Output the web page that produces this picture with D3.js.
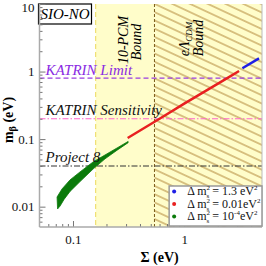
<!DOCTYPE html>
<html>
<head>
<meta charset="utf-8">
<script src="https://cdn.jsdelivr.net/npm/d3@7"></script>
<style>
  body { margin: 0; background: #fff; }
  text { font-family: "Liberation Serif", "DejaVu Serif", serif; }
</style>
</head>
<body>
<div id="chart"></div>
<script>
// data
var greenUpper = [[0.0719, 0.0139], [0.0797, 0.0183], [0.094, 0.0249], [0.1157, 0.0327], [0.1515, 0.0459], [0.194, 0.0582], [0.249, 0.074], [0.313, 0.0923]];
var greenLower = [[0.0727, 0.00925], [0.0765, 0.0102], [0.0831, 0.0128], [0.094, 0.0168], [0.1157, 0.0235], [0.1515, 0.036], [0.194, 0.051], [0.249, 0.0685], [0.313, 0.0885]];
var redLine = [[0.31, 0.104], [0.6, 0.2], [1.0, 0.335], [2.5, 0.82], [3.11, 1.02]];
var blueLine = [[3.33, 1.12], [4.7, 1.57]];

var bounds = {pcm: 0.16, lcdm: 0.54};
var refLines = [
  {name: "KATRIN Limit", value: 0.8},
  {name: "KATRIN Sensitivity", value: 0.2},
  {name: "Project 8", value: 0.04}
];
var xTicks = [0.1, 1];
var yTicks = [0.01, 0.1, 1, 10];
var yTickLabels = ["0.01", "0.1", "1", "10"];
var legendValues = ["1.3 eV", "0.01eV", "10"];
var legendColors = ["#1f1fe6", "#e82020", "#0a7a0a"];

var width = 266, height = 266,
    margin = {top: 4, right: 4, bottom: 39, left: 39.5};
var iw = width - margin.left - margin.right,
    ih = height - margin.top - margin.bottom;

var svg = d3.select("#chart").append("svg")
  .attr("width", width)
  .attr("height", height);

var defs = svg.append("defs");
defs.append("clipPath").attr("id", "clip")
  .append("rect").attr("width", iw).attr("height", ih);
var pat = defs.append("pattern")
  .attr("id", "hatch")
  .attr("patternUnits", "userSpaceOnUse")
  .attr("width", 10).attr("height", 7.5)
  .attr("patternTransform", "rotate(25)");
pat.append("rect").attr("width", 10).attr("height", 7.5).attr("fill", "#fffdca");
pat.append("line").attr("x1", 0).attr("x2", 10).attr("y1", 3.75).attr("y2", 3.75)
  .attr("stroke", "#b48a3c").attr("stroke-width", 1);

var g = svg.append("g").attr("transform", `translate(${margin.left},${margin.top})`);

var x = d3.scaleLog().domain([0.05, 5]).range([0, iw]);
var y = d3.scaleLog().domain([0.005, 10]).range([ih, 0]);

var plot = g.append("g").attr("clip-path", "url(#clip)");

// bound regions
plot.append("rect")
  .attr("x", x(bounds.pcm)).attr("y", 0)
  .attr("width", x(bounds.lcdm) - x(bounds.pcm)).attr("height", ih)
  .attr("fill", "#fffdca");
plot.append("rect")
  .attr("x", x(bounds.lcdm)).attr("y", 0)
  .attr("width", iw - x(bounds.lcdm)).attr("height", ih)
  .attr("fill", "url(#hatch)");
plot.append("line")
  .attr("x1", x(bounds.pcm)).attr("x2", x(bounds.pcm)).attr("y1", 0).attr("y2", ih)
  .attr("stroke", "#ecd95a").attr("stroke-width", 1).attr("stroke-dasharray", "5,3");
plot.append("line")
  .attr("x1", x(bounds.lcdm)).attr("x2", x(bounds.lcdm)).attr("y1", 0).attr("y2", ih)
  .attr("stroke", "#7a5a18").attr("stroke-width", 1).attr("stroke-dasharray", "3,2");

// reference lines
var refStyle = [
  {color: "#9a3ce0", dash: "5,3"},
  {color: "#ff66cc", dash: "6,2,1.5,2"},
  {color: "#333", dash: "6,2,1.5,2"}
];
refLines.forEach(function(r, i) {
  plot.append("line")
    .attr("x1", 0).attr("x2", iw).attr("y1", y(r.value)).attr("y2", y(r.value))
    .attr("stroke", refStyle[i].color).attr("stroke-width", 1.1)
    .attr("stroke-dasharray", refStyle[i].dash);
});

// green band
var band = greenUpper.concat(greenLower.slice().reverse());
plot.append("path")
  .attr("d", d3.line().x(d => x(d[0])).y(d => y(d[1])).curve(d3.curveLinearClosed)(band))
  .attr("fill", legendColors[2]).attr("stroke", legendColors[2]).attr("stroke-width", 0.8);

var line = d3.line().x(d => x(d[0])).y(d => y(d[1]));
plot.append("path").attr("d", line(redLine))
  .attr("fill", "none").attr("stroke", legendColors[1]).attr("stroke-width", 2.5);
plot.append("path").attr("d", line(blueLine))
  .attr("fill", "none").attr("stroke", legendColors[0]).attr("stroke-width", 2.5);

// labels in the plot
var labelY = [-3, -4, -4];
refLines.forEach(function(r, i) {
  g.append("text")
    .attr("x", 6).attr("y", y(r.value) + labelY[i])
    .attr("font-size", 15).attr("font-style", "italic")
    .attr("fill", i == 0 ? "#8a2be2" : "#111")
    .text(r.name);
});

g.append("text")
  .attr("transform", `translate(${x(bounds.pcm) + 32},36) rotate(-90)`)
  .attr("text-anchor", "middle").attr("font-size", 14).attr("font-style", "italic")
  .text("10-PCM");
g.append("text")
  .attr("transform", `translate(${x(bounds.pcm) + 45},38) rotate(-90)`)
  .attr("text-anchor", "middle").attr("font-size", 14).attr("font-style", "italic")
  .text("Bound");

var lt = g.append("text")
  .attr("transform", `translate(${x(bounds.lcdm) + 35},35) rotate(-90)`)
  .attr("text-anchor", "middle").attr("font-size", 14).attr("font-style", "italic");
lt.append("tspan").text("eΛ");
lt.append("tspan").attr("font-size", 9).attr("dy", 3).text("CDM");
g.append("text")
  .attr("transform", `translate(${x(bounds.lcdm) + 49},34) rotate(-90)`)
  .attr("text-anchor", "middle").attr("font-size", 14).attr("font-style", "italic")
  .text("Bound");

// SIO-NO box
g.append("rect").attr("x", -1).attr("y", 0).attr("width", 53).attr("height", 20)
  .attr("fill", "#fff").attr("stroke", "#000").attr("stroke-width", 1.2);
g.append("text").attr("x", 25.5).attr("y", 15).attr("text-anchor", "middle")
  .attr("font-size", 15).attr("font-style", "italic").text("SIO-NO");

// axes
function minors(lo, hi) {
  var out = [];
  for (var e = -3; e <= 1; e++) {
    for (var k = 2; k <= 9; k++) {
      var v = k * Math.pow(10, e);
      if (v > lo && v < hi) out.push(v);
    }
  }
  return out;
}

var xMinor = g.append("g").attr("transform", `translate(0,${ih})`)
  .call(d3.axisBottom(x).tickValues(minors(0.05, 5)).tickSize(-3).tickFormat(""));
var xMajor = g.append("g").attr("transform", `translate(0,${ih})`)
  .call(d3.axisBottom(x).tickValues(xTicks).tickSize(-6).tickPadding(8).tickFormat(d3.format("")));
var yMinor = g.append("g")
  .call(d3.axisLeft(y).tickValues(minors(0.005, 10)).tickSize(-3).tickFormat(""));
var yMajor = g.append("g")
  .call(d3.axisLeft(y).tickValues(yTicks).tickSize(-6).tickPadding(5).tickFormat((d, i) => yTickLabels[i]));

[xMinor, xMajor, yMinor, yMajor].forEach(function(a) {
  a.select(".domain").remove();
  a.selectAll(".tick line").attr("stroke", "#777");
  a.selectAll("text").attr("font-size", 13).attr("fill", "#111")
    .attr("font-family", "Liberation Serif");
});
// keep the top label inside the picture
yMajor.selectAll(".tick text").filter(d => d == 10).attr("dy", "0.55em");

g.append("line").attr("x1", 0).attr("x2", 0).attr("y1", 0).attr("y2", ih)
  .attr("stroke", "#aaa").attr("stroke-width", 1.5);
g.append("line").attr("x1", 0).attr("x2", iw).attr("y1", ih).attr("y2", ih)
  .attr("stroke", "#aaa").attr("stroke-width", 1.5);
g.append("line").attr("x1", iw).attr("x2", iw).attr("y1", 0).attr("y2", ih)
  .attr("stroke", "#bbb").attr("stroke-width", 1);

// legend
var leg = g.append("g").attr("transform", `translate(${x(0.9) - 10},${ih - 41})`);
leg.append("rect").attr("width", iw - x(0.9) + 10).attr("height", 40)
  .attr("fill", "#fff").attr("stroke", "#999").attr("stroke-width", 1.5);
legendValues.forEach(function(v, i) {
  var ry = 9 + i * 12.5;
  leg.append("circle").attr("cx", 5).attr("cy", ry - 3.5).attr("r", 2).attr("fill", legendColors[i]);
  var t = leg.append("text").attr("x", 18).attr("y", ry).attr("font-size", 12).attr("fill", "#111");
  t.append("tspan").text("Δ m");
  t.append("tspan").attr("font-size", 7).attr("dy", -5).text("2");
  t.append("tspan").attr("font-size", 7).attr("dx", -3.5).attr("dy", 8).text("s");
  t.append("tspan").attr("dy", -3).text(" = " + v);
  if (i == 2) {
    t.append("tspan").attr("font-size", 7).attr("dy", -5).text("-4");
    t.append("tspan").attr("dy", 5).text("eV");
  }
  t.append("tspan").attr("font-size", 7).attr("dy", -5).text("2");
});

// axis titles
svg.append("text")
  .attr("x", margin.left + x(0.6)).attr("y", 262)
  .attr("text-anchor", "middle").attr("font-size", 14).attr("font-weight", "bold")
  .text("Σ (eV)");
var yt = svg.append("text")
  .attr("transform", `translate(13,${margin.top + 116}) rotate(-90)`)
  .attr("text-anchor", "middle").attr("font-size", 14).attr("font-weight", "bold");
yt.append("tspan").text("m");
yt.append("tspan").attr("font-size", 10).attr("dy", 3).text("β");
yt.append("tspan").attr("dy", -3).text(" (eV)");
</script>
</body>
</html>
